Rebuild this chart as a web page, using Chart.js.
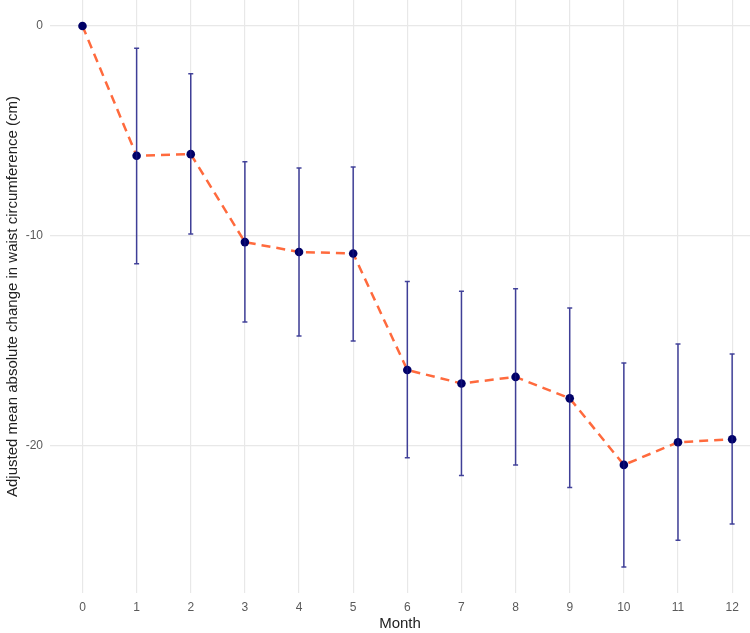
<!DOCTYPE html>
<html>
<head>
<meta charset="utf-8">
<script src="https://cdn.jsdelivr.net/npm/chart.js@4/dist/chart.umd.min.js"></script>
<style>
html,body{margin:0;padding:0;background:#fff;}
#wrap{width:750px;height:633px;position:relative;}
</style>
</head>
<body>
<div id="wrap"><canvas id="c" width="750" height="633"></canvas></div>
<script>
const months = [0,1,2,3,4,5,6,7,8,9,10,11,12];
const meanChange = [0,-6.18,-6.10,-10.29,-10.76,-10.83,-16.38,-17.02,-16.71,-17.73,-20.90,-19.82,-19.68];
const ciUpper = [0,-1.06,-2.27,-6.46,-6.76,-6.71,-12.17,-12.63,-12.51,-13.43,-16.05,-15.14,-15.62];
const ciLower = [0,-11.32,-9.90,-14.10,-14.76,-15.00,-20.56,-21.41,-20.90,-21.98,-25.76,-24.49,-23.71];
const yTicks = [0,-10,-20];

const errorBars = {
  id:'errorBars',
  afterDatasetsDraw(chart){
    const {ctx, scales:{x,y}} = chart;
    ctx.save();
    ctx.strokeStyle = 'rgba(20,20,130,0.8)';
    ctx.lineWidth = 1.5;
    months.forEach((m,i)=>{
      if (ciUpper[i]===ciLower[i]) return;
      const px = x.getPixelForValue(m);
      const pt = y.getPixelForValue(ciUpper[i]);
      const pb = y.getPixelForValue(ciLower[i]);
      ctx.beginPath();
      ctx.moveTo(px,pt); ctx.lineTo(px,pb);
      ctx.moveTo(px-2.5,pt); ctx.lineTo(px+2.5,pt);
      ctx.moveTo(px-2.5,pb); ctx.lineTo(px+2.5,pb);
      ctx.stroke();
    });
    ctx.restore();
  }
};

new Chart(document.getElementById('c'), {
  type:'line',
  data:{
    datasets:[
      {
        data: months.map((m,i)=>({x:m,y:meanChange[i]})),
        borderColor:'#ff6a3d',
        borderWidth:2.5,
        borderDash:[9,6],
        pointRadius:0,
        fill:false,
        order:2
      },
      {
        data: months.map((m,i)=>({x:m,y:meanChange[i]})),
        showLine:false,
        pointRadius:4.3,
        pointBackgroundColor:'#000066',
        pointBorderColor:'#000066',
        pointBorderWidth:0,
        order:1
      }
    ]
  },
  plugins:[errorBars],
  options:{
    responsive:false,
    animation:false,
    layout:{padding:0, autoPadding:false},
    plugins:{legend:{display:false},tooltip:{enabled:false}},
    scales:{
      x:{
        type:'linear',
        min:-0.6,
        max:12.33,
        grid:{color:'#e8e8e8',lineWidth:1.2,drawTicks:false},
        border:{display:false},
        afterBuildTicks(s){ s.ticks = months.map(v=>({value:v})); },
        afterFit(s){ s.height = 40; s.paddingLeft = 0; s.paddingRight = 0; },
        ticks:{color:'#5a5a5a',font:{family:'Liberation Sans, Arial',size:12},padding:7,maxRotation:0,autoSkip:false},
        title:{display:true,text:'Month',color:'#222',font:{family:'Liberation Sans, Arial',size:15},padding:{top:0,bottom:0}}
      },
      y:{
        type:'linear',
        min:-27.0,
        max:1.24,
        grid:{color:'#e8e8e8',lineWidth:1.2,drawTicks:false},
        border:{display:false},
        afterBuildTicks(s){ s.ticks = yTicks.map(v=>({value:v})); },
        afterFit(s){ s.width = 50; s.paddingTop = 0; s.paddingBottom = 0; },
        ticks:{color:'#5a5a5a',font:{family:'Liberation Sans, Arial',size:12},padding:7},
        title:{display:true,text:'Adjusted mean absolute change in waist circumference (cm)',color:'#222',font:{family:'Liberation Sans, Arial',size:15},padding:{top:4,bottom:0}}
      }
    }
  }
});
</script>
</body>
</html>
